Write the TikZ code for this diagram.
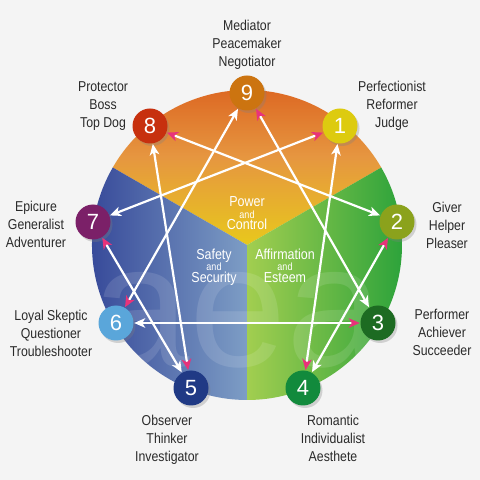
\documentclass[tikz,border=0pt]{standalone}
\usepackage{fontspec}
\setmainfont{Liberation Sans}
\newfontfamily\labfont[FakeStretch=0.86]{Liberation Sans}
\usetikzlibrary{arrows.meta,shadows}
\definecolor{bg}{HTML}{F4F4F4}
\definecolor{labtxt}{HTML}{2A2A2A}
\definecolor{arrpink}{HTML}{E8337A}
\definecolor{c9}{HTML}{CC7410}
\definecolor{c8}{HTML}{C7300E}
\definecolor{c1}{HTML}{DDCB0F}
\definecolor{c2}{HTML}{8BA21C}
\definecolor{c3}{HTML}{1D6B22}
\definecolor{c4}{HTML}{128A3C}
\definecolor{c5}{HTML}{203A85}
\definecolor{c6}{HTML}{5AA6DA}
\definecolor{c7}{HTML}{7B2068}
\definecolor{topA}{HTML}{DA5A1A}
\definecolor{topB}{HTML}{E69640}
\definecolor{topC}{HTML}{E8C81C}
\definecolor{blA}{HTML}{2E3F94}
\definecolor{blB}{HTML}{7D9DC5}
\definecolor{grA}{HTML}{A2CE50}
\definecolor{grB}{HTML}{2DA33B}
\newcommand\tlab[6]{%
  \node[lab] (#1a) at (#2,#3) {#4};
  \node[lab] (#1b) at (#2,#3-18) {#5};
  \node[lab] (#1c) at (#2,#3-36) {#6};}
\tikzset{
  num/.style={circle, minimum size=35pt, inner sep=0pt, text=white,
    font=\fontsize{22}{22}\selectfont,
    drop shadow={shadow xshift=2pt, shadow yshift=-2.5pt, opacity=0.3}},
  lab/.style={anchor=base, inner sep=0pt, text=labtxt, font=\labfont\fontsize{14.3}{16}\selectfont},
  sect/.style={anchor=base, inner sep=0pt, text=white, font=\labfont\fontsize{14.5}{16}\selectfont},
  sectsm/.style={anchor=base, inner sep=0pt, text=white, font=\labfont\fontsize{10.5}{12}\selectfont},
  link/.style={draw=white, line width=2.2pt, shorten <=0.5pt, shorten >=0.5pt,
    {Stealth[length=11pt,width=9.5pt,inset=3pt,color=white]}-{Stealth[length=11pt,width=9.5pt,inset=3pt,color=arrpink]}}
}
\begin{document}
\begin{tikzpicture}[x=1pt,y=1pt]
\fill[bg] (0,0) rectangle (480,480);
\useasboundingbox (0,0) rectangle (480,480);
\coordinate (C) at (247,235);
% sectors
\shade[top color=topA, bottom color=topC, middle color=topB]
  (C) -- ++(150:155) arc[start angle=150,end angle=30,radius=155] -- cycle;
\shade[left color=blA, right color=blB]
  (C) -- ++(150:155) arc[start angle=150,end angle=270,radius=155] -- cycle;
\shade[left color=grA, right color=grB]
  (C) -- ++(270:155) arc[start angle=270,end angle=390,radius=155] -- cycle;
% watermark
\begin{scope}
  \clip (C) circle (155);
  \node[anchor=base, inner sep=0pt, text=white, opacity=0.12,
    font=\fontsize{175}{175}\selectfont] (wm) at (238,113) {aea};
\end{scope}
% sector texts
\node[sect] (pw1) at (247,273.3) {Power};
\node[sectsm] (pw2) at (247,261.7) {and};
\node[sect] (pw3) at (247,250) {Control};
\node[sect] (sf1) at (214,220) {Safety};
\node[sectsm] (sf2) at (214,209.5) {and};
\node[sect] (sf3) at (214,197) {Security};
\node[sect] (af1) at (285,220) {Affirmation};
\node[sectsm] (af2) at (285,209.5) {and};
\node[sect] (af3) at (285,197) {Esteem};
% points
\node[num, fill=c9] (n9) at (247,387) {9};
\node[num, fill=c1] (n1) at (340,354) {1};
\node[num, fill=c2] (n2) at (397,258) {2};
\node[num, fill=c3] (n3) at (378,157) {3};
\node[num, fill=c4] (n4) at (303,92) {4};
\node[num, fill=c5] (n5) at (191,92) {5};
\node[num, fill=c6] (n6) at (116,157) {6};
\node[num, fill=c7] (n7) at (93,258) {7};
\node[num, fill=c8] (n8) at (150,354) {8};
% connectors: white tip at start, pink tip at end
\draw[link] (n9) -- (n6);
\draw[link] (n6) -- (n3);
\draw[link] (n3) -- (n9);
\draw[link] (n1) -- (n4);
\draw[link] (n4) -- (n2);
\draw[link] (n2) -- (n8);
\draw[link] (n8) -- (n5);
\draw[link] (n5) -- (n7);
\draw[link] (n7) -- (n1);
% labels
\tlab{t9}{247}{449.3}{Mediator}{Peacemaker}{Negotiator}
\tlab{t8}{103}{388}{Protector}{Boss}{Top Dog}
\tlab{t1}{392}{388}{Perfectionist}{Reformer}{Judge}
\tlab{t2}{447}{267.3}{Giver}{Helper}{Pleaser}
\tlab{t7}{36}{268}{Epicure}{Generalist}{Adventurer}
\tlab{t3}{442}{160}{Performer}{Achiever}{Succeeder}
\tlab{t6}{51}{159.5}{Loyal Skeptic}{Questioner}{Troubleshooter}
\tlab{t4}{333}{54}{Romantic}{Individualist}{Aesthete}
\tlab{t5}{167}{54}{Observer}{Thinker}{Investigator}
\end{tikzpicture}
\end{document}
